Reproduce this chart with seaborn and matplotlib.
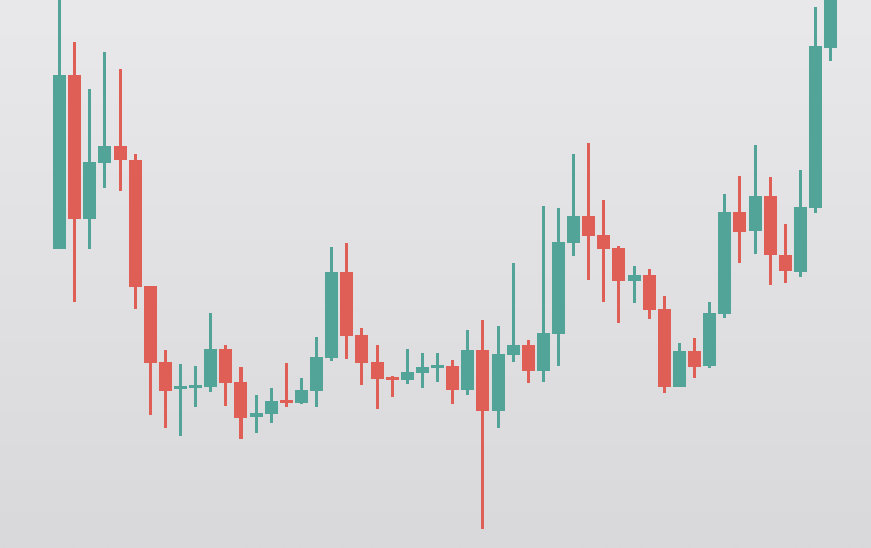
import numpy as np
import matplotlib
matplotlib.use('Agg')
import matplotlib.pyplot as plt
import seaborn as sns

# OHLC values (arbitrary price units)
opens = [29.9, 47.3, 32.9, 38.5, 40.2, 38.8, 26.2, 18.6, 15.9, 16.0,
         16.1, 19.9, 16.6, 13.1, 13.4, 14.8, 14.5, 15.7, 19.0, 27.6,
         21.3, 18.6, 17.1, 16.8, 17.5, 18.0, 18.2, 15.8, 19.8, 13.7,
         19.3, 20.3, 17.7, 21.4, 30.5, 33.2, 31.3, 30.0, 26.7, 27.3,
         23.9, 16.1, 19.7, 18.2, 23.4, 33.6, 31.7, 35.2, 29.3, 27.6,
         34.0, 50.0]
highs = [55.8, 50.6, 45.9, 49.6, 47.9, 39.4, 26.2, 19.8, 18.4, 18.2,
         23.5, 20.3, 18.1, 15.3, 16.0, 18.5, 17.0, 21.1, 30.1, 30.5,
         22.0, 20.3, 17.2, 19.9, 19.5, 19.5, 18.8, 21.8, 22.8, 22.2,
         28.5, 20.8, 34.2, 34.0, 39.4, 40.5, 34.8, 30.2, 28.2, 27.9,
         25.2, 20.5, 21.0, 24.6, 35.4, 37.2, 40.3, 37.1, 32.4, 37.8,
         54.1, 58.8]
lows = [29.9, 24.6, 29.9, 36.0, 35.7, 23.9, 13.3, 12.0, 11.2, 14.1,
        15.6, 14.2, 10.9, 11.5, 12.5, 14.1, 14.4, 14.1, 18.7, 18.9,
        16.3, 13.9, 15.1, 16.4, 16.0, 16.6, 14.4, 15.3, 1.9, 12.0,
        18.6, 16.5, 16.6, 18.2, 29.2, 26.8, 24.6, 22.5, 24.5, 22.9,
        15.5, 16.1, 17.0, 18.0, 23.0, 28.5, 29.4, 26.3, 26.5, 27.1,
        33.5, 48.7]
closes = [47.3, 32.9, 38.6, 40.2, 38.8, 26.1, 18.5, 15.7, 16.2, 16.3,
          19.9, 16.5, 13.0, 13.5, 14.7, 14.5, 15.8, 19.1, 27.6, 21.2,
          18.5, 16.9, 16.8, 17.6, 18.1, 18.3, 15.8, 19.8, 13.7, 19.4,
          20.3, 17.7, 21.5, 30.6, 33.2, 31.2, 29.9, 26.7, 27.3, 23.8,
          16.1, 19.7, 18.1, 23.5, 33.6, 31.6, 35.2, 29.3, 27.7, 34.1,
          50.2, 57.8]

sns.set_theme(style='white')

up_color = '#52a499'
down_color = '#df5e56'

o = np.array(opens)
h = np.array(highs)
l = np.array(lows)
c = np.array(closes)
x = np.arange(len(o))
colors = np.where(c >= o, up_color, down_color)

fig = plt.figure(figsize=(8.71, 5.48), dpi=100)
ax = fig.add_axes([0, 0, 1, 1])

xmin, xmax = -3.94, 53.67
ymin, ymax = 0, 54.8

# soft vertical gradient background
grad = np.linspace(0, 1, 256).reshape(-1, 1)
top = np.array([233, 233, 235]) / 255
bot = np.array([217, 217, 219]) / 255
img = top + (bot - top) * grad[:, :, None]
ax.imshow(img, extent=[xmin, xmax, ymin, ymax], aspect='auto',
          origin='upper', zorder=0)

# wicks and bodies
ax.bar(x, h - l, bottom=l, width=0.2, color=colors, linewidth=0, zorder=2)
body_lo = np.minimum(o, c)
body_h = np.maximum(np.abs(c - o), 0.25)
ax.bar(x, body_h, bottom=body_lo, width=0.86, color=colors, linewidth=0, zorder=3)

ax.set_xlim(xmin, xmax)
ax.set_ylim(ymin, ymax)
ax.axis('off')

fig.savefig('out.png', dpi=100)
